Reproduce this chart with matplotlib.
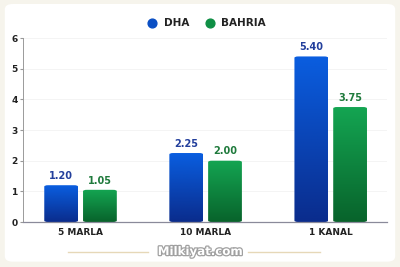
import numpy as np
import matplotlib.pyplot as plt
from matplotlib.patches import FancyBboxPatch
import matplotlib.patheffects as pe

categories = ["5 MARLA", "10 MARLA", "1 KANAL"]
dha = [1.20, 2.25, 5.40]
bahria = [1.05, 2.00, 3.75]

fig = plt.figure(figsize=(4, 2.67), dpi=100)
fig.patch.set_facecolor("#f6f4ec")
# white inner panel
panel = FancyBboxPatch((0.012, 0.02), 0.976, 0.965, boxstyle="round,pad=0,rounding_size=0.02",
                       transform=fig.transFigure, facecolor="white", edgecolor="none",
                       zorder=-10)
fig.patches.append(panel)

ax = fig.add_axes([0.0575, 0.1685, 0.91, 0.689])
ax.set_facecolor("none")

x = np.arange(len(categories))
w = 0.27
off = 0.155

def grad_bars(xs, vals, top, bottom):
    cmap = plt.matplotlib.colors.LinearSegmentedColormap.from_list("g", [bottom, top])
    grad = np.linspace(0, 1, 256).reshape(-1, 1)
    for xi, v in zip(xs, vals):
        patch = FancyBboxPatch((xi - w / 2, 0), w, v,
                               boxstyle="round,pad=0,rounding_size=0.03",
                               mutation_aspect=1.5,
                               facecolor="none", edgecolor="none")
        ax.add_patch(patch)
        im = ax.imshow(grad, cmap=cmap, origin="lower", aspect="auto",
                       extent=(xi - w / 2, xi + w / 2, 0, v), zorder=2)
        im.set_clip_path(patch)

grad_bars(x - off, dha, "#0a5ee0", "#0a2c8c")
grad_bars(x + off, bahria, "#14a552", "#08632b")
ax.set_xlim(-0.46, 2.45)
ax.set_ylim(0, 6)

for xi, v in zip(x - off, dha):
    ax.text(xi, v + 0.14, f"{v:.2f}", ha="center", va="bottom", fontsize=7,
            fontweight="bold", color="#233f9c")
for xi, v in zip(x + off, bahria):
    ax.text(xi, v + 0.14, f"{v:.2f}", ha="center", va="bottom", fontsize=7,
            fontweight="bold", color="#1f7a3c")

ax.set_xticks(x)
ax.set_xticklabels(categories, fontsize=6.5, fontweight="bold", color="#222222")
ax.set_yticks(range(7))
ax.tick_params(axis="y", labelsize=6.5, length=2, color="#999999", pad=2)
ax.tick_params(axis="x", length=0, pad=4)
for lab in ax.get_yticklabels():
    lab.set_fontweight("bold")
    lab.set_color("#222222")
ax.grid(axis="y", color="#f2f2f2", linewidth=0.6)
ax.set_axisbelow(True)
for s in ["top", "right"]:
    ax.spines[s].set_visible(False)
ax.spines["left"].set_color("#9a9a9a")
ax.spines["left"].set_linewidth(0.7)
ax.spines["bottom"].set_color("#8a8a9a")
ax.spines["bottom"].set_linewidth(0.9)

# legend
h1 = ax.scatter([], [], s=40, color="#0a4fc4", label="DHA")
h2 = ax.scatter([], [], s=40, color="#0f8f45", label="BAHRIA")
leg = fig.legend(handles=[h1, h2], loc="center", bbox_to_anchor=(0.51, 0.915), ncol=2,
                 frameon=False, fontsize=7.5, handletextpad=0.1, columnspacing=1.0)
for t in leg.get_texts():
    t.set_fontweight("bold")
    t.set_color("#222222")

# watermark
fig.text(0.5, 0.058, "Milkiyat.com", ha="center", va="center", fontsize=8.5,
         fontweight="bold", color="white",
         path_effects=[pe.withStroke(linewidth=1.8, foreground="#a0a0a0")])
fig.add_artist(plt.Line2D([0.17, 0.37], [0.058, 0.058], transform=fig.transFigure,
                          color="#e6d8b8", linewidth=1.0))
fig.add_artist(plt.Line2D([0.62, 0.80], [0.058, 0.058], transform=fig.transFigure,
                          color="#e6d8b8", linewidth=1.0))

fig.savefig("out.png", dpi=100)
